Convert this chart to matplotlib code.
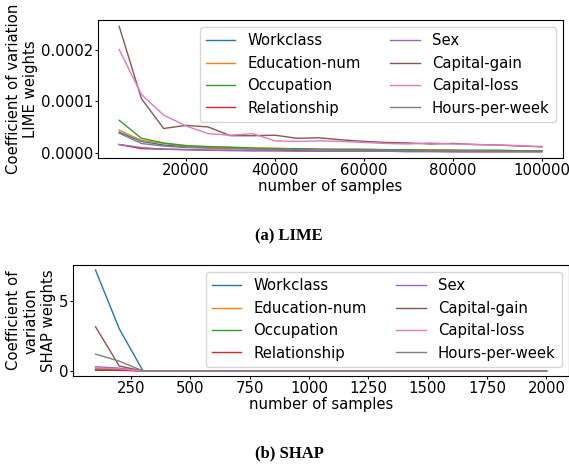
import matplotlib
matplotlib.use("Agg")
import matplotlib.pyplot as plt
import numpy as np

features = ["Workclass", "Education-num", "Occupation", "Relationship",
            "Sex", "Capital-gain", "Capital-loss", "Hours-per-week"]

lime_samples = [5000, 10000, 15000, 20000, 25000, 30000, 35000, 40000, 45000, 50000,
                55000, 60000, 65000, 70000, 75000, 80000, 85000, 90000, 95000, 100000]

lime_workclass = [4.0e-5, 2.2e-5, 1.5e-5, 1.2e-5, 1.0e-5, 9e-6, 8e-6, 7e-6, 7e-6, 6e-6,
                  6e-6, 5e-6, 5e-6, 5e-6, 4e-6, 4e-6, 4e-6, 4e-6, 3e-6, 3e-6]
lime_education = [4.4e-5, 2.4e-5, 1.8e-5, 1.3e-5, 1.1e-5, 1.0e-5, 9e-6, 9e-6, 7e-6, 7e-6,
                  6e-6, 6e-6, 5e-6, 5e-6, 6e-6, 5e-6, 4e-6, 4e-6, 4e-6, 3e-6]
lime_occupation = [6.3e-5, 2.8e-5, 1.9e-5, 1.4e-5, 1.2e-5, 1.1e-5, 9e-6, 8e-6, 8e-6, 7e-6,
                   7e-6, 7e-6, 6e-6, 6e-6, 5e-6, 5e-6, 5e-6, 5e-6, 4e-6, 4e-6]
lime_relationship = [1.6e-5, 8e-6, 7e-6, 6e-6, 5e-6, 5e-6, 4e-6, 4e-6, 4e-6, 3e-6,
                     3e-6, 3e-6, 3e-6, 3e-6, 3e-6, 2e-6, 2e-6, 2e-6, 2e-6, 2e-6]
lime_sex = [1.6e-5, 1.0e-5, 7e-6, 6e-6, 5e-6, 4e-6, 4e-6, 4e-6, 3e-6, 3e-6,
            3e-6, 3e-6, 3e-6, 2e-6, 2e-6, 2e-6, 2e-6, 2e-6, 2e-6, 2e-6]
lime_capgain = [2.45e-4, 1.05e-4, 4.7e-5, 5.3e-5, 5.0e-5, 3.3e-5, 3.3e-5, 3.4e-5, 2.8e-5, 2.9e-5,
                2.5e-5, 2.2e-5, 2.0e-5, 1.9e-5, 1.7e-5, 1.8e-5, 1.6e-5, 1.5e-5, 1.3e-5, 1.2e-5]
lime_caploss = [2.0e-4, 1.13e-4, 7.3e-5, 5.2e-5, 3.7e-5, 3.4e-5, 3.7e-5, 2.3e-5, 2.2e-5, 2.3e-5,
                2.2e-5, 2.0e-5, 1.8e-5, 1.7e-5, 1.9e-5, 1.7e-5, 1.6e-5, 1.5e-5, 1.4e-5, 1.1e-5]
lime_hours = [3.8e-5, 1.8e-5, 1.3e-5, 1.0e-5, 9e-6, 8e-6, 7e-6, 7e-6, 6e-6, 6e-6,
              5e-6, 5e-6, 5e-6, 4e-6, 4e-6, 4e-6, 4e-6, 3e-6, 3e-6, 3e-6]

shap_samples = [100, 200, 300, 400, 500, 600, 700, 800, 900, 1000,
                1100, 1200, 1300, 1400, 1500, 1600, 1700, 1800, 1900, 2000]
shap_workclass = [7.2, 3.0] + [0.0] * 18
shap_education = [0.12, 0.08] + [0.0] * 18
shap_occupation = [0.15, 0.1] + [0.0] * 18
shap_relationship = [0.05, 0.04] + [0.0] * 18
shap_sex = [0.3, 0.2] + [0.0] * 18
shap_capgain = [3.15, 0.35] + [0.0] * 18
shap_caploss = [0.22, 0.15] + [0.0] * 18
shap_hours = [1.2, 0.7] + [0.0] * 18

lime_series = [lime_workclass, lime_education, lime_occupation, lime_relationship,
               lime_sex, lime_capgain, lime_caploss, lime_hours]
shap_series = [shap_workclass, shap_education, shap_occupation, shap_relationship,
               shap_sex, shap_capgain, shap_caploss, shap_hours]

colors = plt.get_cmap("tab10").colors

W, H = 569, 465
fig = plt.figure(figsize=(W / 100, H / 100), dpi=100)
fs = 10.7

def px_axes(l, t, r, b):
    return fig.add_axes([l / W, 1 - b / H, (r - l) / W, (b - t) / H])

ax1 = px_axes(98, 20, 563, 158)
for name, ys, c in zip(features, lime_series, colors):
    ax1.plot(lime_samples, ys, color=c, lw=1.0, label=name)
ax1.set_yticks([0, 0.0001, 0.0002])
ax1.set_yticklabels(["0.0000", "0.0001", "0.0002"])
ax1.set_xticks([20000, 40000, 60000, 80000, 100000])
ax1.tick_params(labelsize=fs, length=2.2, pad=1.2)
ax1.set_xlabel("number of samples", fontsize=fs, labelpad=1)
ax1.set_ylabel("Coefficient of variation\nLIME weights", fontsize=fs, labelpad=2)
ax1.legend(ncol=2, fontsize=fs, loc="upper right")

ax2 = px_axes(73, 265, 569, 376)
for name, ys, c in zip(features, shap_series, colors):
    ax2.plot(shap_samples, ys, color=c, lw=1.0, label=name)
ax2.set_yticks([0, 5])
ax2.set_xticks([250, 500, 750, 1000, 1250, 1500, 1750, 2000])
ax2.tick_params(labelsize=fs, length=2.2, pad=1.2)
ax2.set_xlabel("number of samples", fontsize=fs, labelpad=1)
ax2.set_ylabel("Coefficient of\nvariation\nSHAP weights", fontsize=fs, labelpad=2)
ax2.legend(ncol=2, fontsize=fs, loc="upper right")

fig.text(289 / W, 1 - 236 / H, "(a) LIME", ha="center", va="center",
         fontsize=12, fontweight="bold", family="Liberation Serif")
fig.text(289 / W, 1 - 453 / H, "(b) SHAP", ha="center", va="center",
         fontsize=12, fontweight="bold", family="Liberation Serif")

fig.savefig("out.png", dpi=100)
